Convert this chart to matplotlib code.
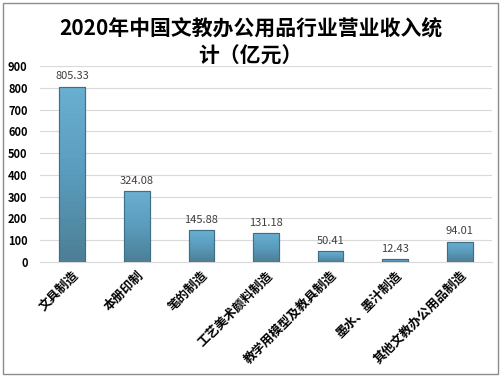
import numpy as np
import matplotlib
matplotlib.use("Agg")
from matplotlib import pyplot as plt
from matplotlib.patches import Rectangle

plt.rcParams['font.family'] = ['Noto Sans CJK SC', 'DejaVu Sans']

categories = ["文具制造", "本册印制", "笔的制造", "工艺美术颜料制造",
              "教学用模型及教具制造", "墨水、墨汁制造", "其他文教办公用品制造"]
values = [805.33, 324.08, 145.88, 131.18, 50.41, 12.43, 94.01]
yticks = [0, 100, 200, 300, 400, 500, 600, 700, 800, 900]

fig = plt.figure(figsize=(5.01, 3.77), dpi=100)
ax = fig.add_axes([0.08, 0.305, 0.902, 0.52])

x = np.arange(len(categories))
bars = ax.bar(x, values, width=0.4, color="#5a9cbd", edgecolor="#3f6f86",
              linewidth=0.8, zorder=3)

# gradient fill for each bar
cmap = matplotlib.colors.LinearSegmentedColormap.from_list(
    "bar", ["#4d7f96", "#5a9cbd", "#6aaed0"])
for b in bars:
    x0, y0 = b.get_x(), b.get_y()
    w, h = b.get_width(), b.get_height()
    im = ax.imshow(np.linspace(0, 1, 32).reshape(-1, 1) * np.ones((1, 8)),
                   extent=[x0, x0 + w, y0, y0 + h], origin="lower",
                   cmap=cmap, aspect="auto", zorder=3.5)
    im.set_clip_path(b)
    ax.add_patch(Rectangle((x0, y0), w, h, fill=False,
                           edgecolor="#3f6f86", linewidth=0.8, zorder=4))

for xi, v in zip(x, values):
    ax.text(xi, v + 25, f"{v:.2f}", ha="center", va="bottom",
            fontsize=8, color="#404040", zorder=5)

ax.set_xlim(-0.5, len(categories) - 0.5)
ax.set_ylim(0, 900)
ax.set_yticks(yticks)
ax.set_yticklabels([str(t) for t in yticks], fontsize=8, fontweight="bold")
ax.set_xticks(x)
ax.set_xticklabels(categories, rotation=45, ha="right", rotation_mode="anchor",
                   fontsize=9, fontweight="bold")
ax.tick_params(axis="x", length=0, pad=5)
ax.tick_params(axis="y", length=0, pad=9)
ax.grid(axis="y", color="#d9d9d9", linewidth=0.8, zorder=0)
for s in ["top", "right", "left"]:
    ax.spines[s].set_visible(False)
ax.spines["bottom"].set_color("#d9d9d9")

fig.text(0.5, 0.887, "2020年中国文教办公用品行业营业收入统\n计（亿元）",
         ha="center", va="center", fontsize=15, fontweight="bold",
         linespacing=1.35)

fig.patches.append(Rectangle((0.006, 0.008), 0.988, 0.984, transform=fig.transFigure,
                             fill=False, edgecolor="#8c8c8c", linewidth=1))

fig.savefig("out.png", dpi=100)
